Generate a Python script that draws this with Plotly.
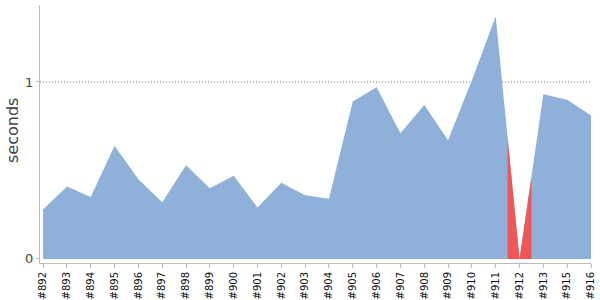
import plotly.graph_objects as go

builds = ["#892", "#893", "#894", "#895", "#896", "#897", "#898", "#899", "#900", "#901",
          "#902", "#903", "#904", "#905", "#906", "#907", "#908", "#909", "#910", "#911",
          "#912", "#913", "#915", "#916"]
durations = [0.28, 0.41, 0.35, 0.64, 0.45, 0.32, 0.53, 0.40, 0.47, 0.29,
             0.43, 0.36, 0.34, 0.89, 0.97, 0.71, 0.87, 0.67, 1.01, 1.37,
             0.0, 0.93, 0.90, 0.81]
status = ["ok"] * 20 + ["fail"] + ["ok"] * 3
reference_line = 1

BLUE = "rgb(143,176,217)"
RED = "rgb(242,87,87)"

xs = list(range(len(builds)))

def interp(x):
    i0 = int(x)
    i1 = min(i0 + 1, len(durations) - 1)
    t = x - i0
    return durations[i0] * (1 - t) + durations[i1] * t

fig = go.Figure()
fig.add_trace(go.Scatter(x=xs, y=durations, mode="lines", fill="tozeroy",
                         fillcolor=BLUE, line=dict(width=0, color=BLUE),
                         hoverinfo="skip", showlegend=False))

for i, s in enumerate(status):
    if s == "fail":
        sx = [i - 0.5, i, i + 0.5]
        sy = [interp(i - 0.5), durations[i], interp(i + 0.5)]
        fig.add_trace(go.Scatter(x=sx, y=sy, mode="lines", fill="tozeroy",
                                 fillcolor=RED, line=dict(width=0, color=RED),
                                 hoverinfo="skip", showlegend=False))

fig.add_shape(type="line", xref="paper", x0=0, x1=1, yref="y",
              y0=reference_line, y1=reference_line, layer="below",
              line=dict(color="#777", width=1, dash="1px,2px"))

fig.add_annotation(text="seconds", xref="paper", yref="paper",
                   x=-0.051, y=0.515, xanchor="center", yanchor="middle",
                   textangle=-90, showarrow=False,
                   font=dict(size=16, color="#444"))

fig.update_layout(
    width=600, height=300,
    margin=dict(l=40, r=9, t=5, b=37),
    plot_bgcolor="white", paper_bgcolor="white",
    font=dict(family="DejaVu Sans", color="#333"),
)
fig.update_xaxes(
    range=[-0.13, len(builds) - 1],
    tickmode="array", tickvals=xs, ticktext=builds, tickangle=-90,
    tickfont=dict(size=10, color="#111"),
    showgrid=False, zeroline=False, automargin=False,
    showline=True, linecolor="#bbb", linewidth=1,
    ticks="outside", ticklen=4, tickcolor="#bbb",
)
fig.update_yaxes(
    range=[-0.023, 1.435],
    tickvals=[0, 1], ticktext=["0", "1"],
    tickfont=dict(size=13, color="#444"),
    showgrid=False, zeroline=False, automargin=False,
    showline=True, linecolor="#bbb", linewidth=1,
    ticks="outside", ticklen=3, tickcolor="#bbb",
)

fig.write_html("out.html")
